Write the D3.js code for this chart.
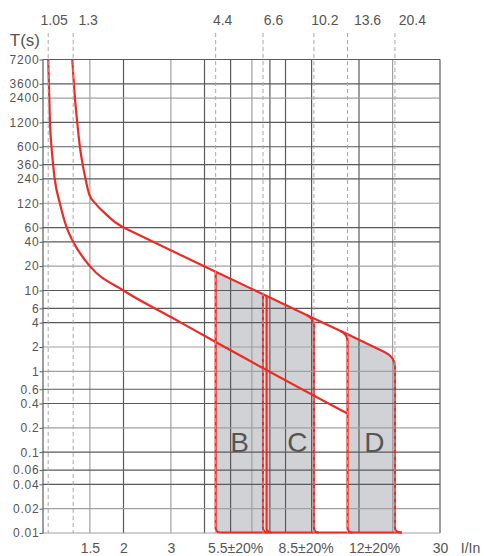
<!DOCTYPE html>
<html><head><meta charset="utf-8">
<script src="https://cdn.jsdelivr.net/npm/d3@7"></script>
<style>body{margin:0;background:#fff;} svg{display:block;font-family:"Liberation Sans",Arial,sans-serif;}</style>
</head><body><svg id="c" width="484" height="556"></svg>
<script>
// ---- data ----
const yTicks = [7200,3600,2400,1200,600,360,240,120,60,40,20,10,6,4,2,1,0.6,0.4,0.2,0.1,0.06,0.04,0.02,0.01];
const xGrid = [1.5,2,3,4,5,6,7,8,10,15,20,30];
const lightX = [1.5,3,6,20];
const lightY = [2400,120,20,2,1,0.2,0.02,0.01];
const dashedAt = [1.05,1.3,4.4,6.6,10.2,13.6,20.4];
const dashedLabels = ["1.05","1.3","4.4","6.6","10.2","13.6","20.4"];
const bottomTickValues = [1.5,2,3,5.2,9.5,17.06,30,38.8];
const bottomTickLabels = ["1.5","2","3","5.5±20%","8.5±20%","12±20%","30","I/In"];
// thermal curves (I/In, seconds)
const lowerCurve = [[1.05,7200],[1.056,3600],[1.06,2400],[1.066,1200],[1.08,600],[1.095,360],[1.11,240],[1.16,120],[1.23,60],[1.3,40],[1.5,20],[2,10],[3,4.7],[4.4,2.3],[13.6,0.3]];
const upperKnee = [[1.29,7200],[1.308,3600],[1.32,2400],[1.346,1200],[1.377,600],[1.41,360],[1.445,240],[1.49,156],[1.58,117],[1.72,88],[1.83,73],[2,60]];
const upperLine = [[2,60],[4.4,17],[6.6,9],[10.2,4.5],[13.6,2.87],[20.4,1.5]];
// magnetic trip bands
const regionNames = ["B","C","D"];
const regionFrom = [4.4,6.8,13.6];
const regionTo = [6.6,10.2,20.4];
const regionLabelAt = [5.4,8.85,17.1];
const edgeValues = [4.4,6.6,6.8,10.2,13.6];
const edgeFillet = [false,false,false,true,true];

// ---- layout ----
const svg = d3.select('#c');
const X = d3.scaleLog().domain([1,30]).range([42.5,440]);
const Y = d3.scaleLog().domain([0.01,7200]).range([533,59.5]);
const RED='#ec2b26', FILL='#d1d2d5', DARK='#5a5a5a', LIGHT='#a0a0a0', TXT='#555';
const yBot = Y(0.01), yTop = Y(7200);
const topLabelShift = [6,15,7,10.5,11,20,17.5];
const rb = 5, rf = 7, rEnd = 10;

const linePx = upperLine.map(d=>[X(d[0]),Y(d[1])]);
function lineY(px){
  for(let i=0;i<linePx.length-1;i++){
    const a=linePx[i], b=linePx[i+1];
    if(px<=b[0] || i===linePx.length-2){
      const t=(px-a[0])/(b[0]-a[0]); return a[1]+t*(b[1]-a[1]);
    }
  }
}

// fills
const gFill = svg.append('g');
regionNames.forEach((n,i)=>{
  const xa=X(regionFrom[i]), xb=X(regionTo[i]);
  const ya=lineY(xa), yb=lineY(xb);
  const f = i===0?0:(i===2?rEnd:rf);
  const p=d3.path();
  p.moveTo(xa,ya);
  if(f>0){ p.lineTo(xb-f, lineY(xb-f)); p.quadraticCurveTo(xb,yb,xb,yb+f); }
  else p.lineTo(xb,yb);
  p.lineTo(xb,yBot); p.lineTo(xa+rb,yBot); p.quadraticCurveTo(xa,yBot,xa,yBot-rb); p.closePath();
  gFill.append('path').attr('d',p.toString()).attr('fill',FILL);
});

// grid
const gGrid = svg.append('g');
xGrid.forEach(v=>{
  gGrid.append('line').attr('x1',X(v)).attr('x2',X(v)).attr('y1',yTop).attr('y2',yBot)
    .attr('stroke',lightX.includes(v)?LIGHT:DARK).attr('stroke-width',1.2);
});
yTicks.forEach(v=>{
  gGrid.append('line').attr('x1',X(1)).attr('x2',X(30)).attr('y1',Y(v)).attr('y2',Y(v))
    .attr('stroke',lightY.includes(v)?LIGHT:DARK).attr('stroke-width',1.2);
});

// axes
const ya = svg.append('g').attr('transform',`translate(${X(1)},0)`)
  .call(d3.axisLeft(Y).tickValues(yTicks).tickFormat(d=>String(d)).tickSize(3).tickSizeOuter(0).tickPadding(0));
ya.select('.domain').attr('stroke',DARK).attr('stroke-width',1.2);
ya.selectAll('.tick line').attr('stroke',DARK);
ya.selectAll('text').attr('fill',TXT).style('font-size','12px').style('letter-spacing','0.8px');

const xa = svg.append('g').attr('transform',`translate(0,${yBot})`)
  .call(d3.axisBottom(X).tickValues(bottomTickValues).tickFormat((d,i)=>bottomTickLabels[i]).tickSize(0).tickPadding(10));
xa.select('.domain').remove();
xa.selectAll('text').attr('fill',TXT).style('font-size','14px');

// red curves
const gRed = svg.append('g').attr('fill','none').attr('stroke',RED).attr('stroke-width',2.2);
const lg = d3.line().x(d=>X(d[0])).y(d=>Y(d[1])).curve(d3.curveMonotoneX);
gRed.append('path').attr('d',lg(lowerCurve));
gRed.append('path').attr('d',lg(upperKnee));
{
  const p=d3.path();
  const c=linePx[linePx.length-1];
  p.moveTo(linePx[0][0],linePx[0][1]);
  for(let i=1;i<linePx.length-1;i++) p.lineTo(linePx[i][0],linePx[i][1]);
  p.lineTo(c[0]-rEnd, lineY(c[0]-rEnd));
  p.quadraticCurveTo(c[0],c[1],c[0],c[1]+rEnd);
  p.lineTo(c[0],yBot-rb); p.quadraticCurveTo(c[0],yBot-0.5,c[0]+rb+2,yBot-0.5);
  gRed.append('path').attr('d',p.toString());
}
edgeValues.forEach((v,i)=>{
  const xv=X(v), yv=lineY(xv);
  const p=d3.path();
  if(edgeFillet[i]){ p.moveTo(xv-rf,lineY(xv-rf)); p.quadraticCurveTo(xv,yv,xv,yv+rf); }
  else p.moveTo(xv,yv);
  p.lineTo(xv,yBot-rb); p.quadraticCurveTo(xv,yBot-0.5,xv+rb,yBot-0.5);
  gRed.append('path').attr('d',p.toString());
});
gRed.append('line').attr('x1',X(4.4)+rb).attr('x2',X(20.4)+rb+2).attr('y1',yBot-0.5).attr('y2',yBot-0.5);

// dashed guides
const gDash = svg.append('g');
dashedAt.forEach((v,i)=>{
  gDash.append('line').attr('x1',X(v)).attr('x2',X(v)).attr('y1',33).attr('y2',yBot)
    .attr('stroke','#a8a8a8').attr('stroke-width',1).attr('stroke-dasharray','4,3');
  gDash.append('text').attr('x',X(v)+topLabelShift[i]).attr('y',25).attr('text-anchor','middle')
    .attr('fill',TXT).style('font-size','14px').text(dashedLabels[i]);
});

// region letters
regionNames.forEach((n,i)=>{
  svg.append('text').attr('x',X(regionLabelAt[i])).attr('y',452).attr('text-anchor','middle')
    .attr('fill',TXT).style('font-size','28px').text(n);
});

svg.append('text').attr('x',40).attr('y',46).attr('text-anchor','end').attr('fill',TXT)
  .style('font-size','17px').text('T(s)');
</script></body></html>
